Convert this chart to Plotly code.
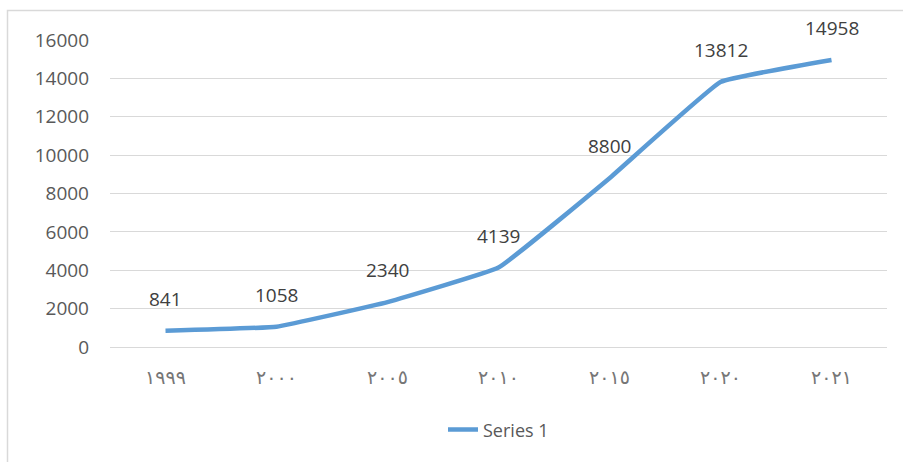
import plotly.graph_objects as go

years = ["1999", "2000", "2005", "2010", "2015", "2020", "2021"]
year_labels = ["١٩٩٩", "٢٠٠٠", "٢٠٠٥", "٢٠١٠", "٢٠١٥", "٢٠٢٠", "٢٠٢١"]
values = [841, 1058, 2340, 4139, 8800, 13812, 14958]
series_name = "Series 1"

W, H = 903, 462
ml, mr, mt, mb = 110, 16, 40, 115

fig = go.Figure()
fig.add_trace(go.Scatter(
    x=year_labels, y=values, mode="lines", name=series_name,
    line=dict(color="#5b9bd5", width=4.5, shape="spline", smoothing=0.25),
    hoverinfo="skip",
))

for i, v in enumerate(values):
    fig.add_annotation(x=i, y=v, text=str(v), showarrow=False,
                       yshift=32, font=dict(size=19, color="#404040",
                                            family="Open Sans"))

pw = W - ml - mr
ph = H - mt - mb
fig.add_shape(type="rect", xref="paper", yref="paper",
              x0=(7.5 - ml) / pw, x1=(W + 5 - ml) / pw,
              y0=(H - mb - (H + 5)) / ph, y1=(H - mb - 10.5) / ph,
              line=dict(color="#d9d9d9", width=1.5), layer="below")

fig.update_layout(
    width=W, height=H,
    margin=dict(l=ml, r=mr, t=mt, b=mb),
    paper_bgcolor="white", plot_bgcolor="white",
    font=dict(family="Open Sans", color="#595959"),
    showlegend=True,
    legend=dict(orientation="h", x=0.5, xanchor="center", y=-0.27,
                yanchor="middle", font=dict(size=18, color="#595959")),
    xaxis=dict(type="category", range=[-0.5, len(values) - 0.5],
               showgrid=False, showline=False, tickangle=0,
               zeroline=False, ticks="", ticklabelstandoff=17,
               tickfont=dict(size=19, color="#767676",
                             family="DejaVu Sans")),
    yaxis=dict(range=[0, 16000], dtick=2000, tickformat="d", showgrid=True,
               gridcolor="#d9d9d9", gridwidth=1.2, zeroline=True,
               zerolinecolor="#d9d9d9", zerolinewidth=1.2, showline=False,
               ticks="", ticklabelstandoff=20,
               tickfont=dict(size=19, color="#595959", family="Open Sans")),
)

fig.write_html("out.html")
